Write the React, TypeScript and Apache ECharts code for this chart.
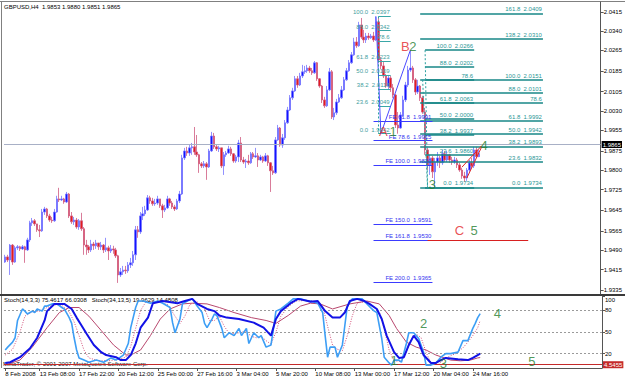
import React, { useEffect, useRef } from "react";
import * as echarts from "echarts";

// ---------------- data ----------------
const symbolName = "GBPUSD,H4";
const firstOpen = 1.9444;
const closes = [
  1.9464,1.9452,1.9510,1.9444,1.9499,1.9503,1.9495,1.9503,1.9491,1.9530,
  1.9596,1.9604,1.9592,1.9569,1.9565,1.9638,1.9650,1.9623,1.9607,1.9604,
  1.9638,1.9689,1.9685,1.9689,1.9677,1.9708,1.9623,1.9600,1.9607,1.9580,
  1.9604,1.9573,1.9510,1.9503,1.9491,1.9514,1.9507,1.9518,1.9503,1.9510,
  1.9491,1.9499,1.9487,1.9495,1.9491,1.9468,1.9394,1.9406,1.9413,1.9410,
  1.9433,1.9441,1.9472,1.9569,1.9561,1.9623,1.9631,1.9646,1.9693,1.9681,
  1.9670,1.9673,1.9689,1.9662,1.9646,1.9654,1.9689,1.9673,1.9658,1.9650,
  1.9681,1.9708,1.9848,1.9875,1.9867,1.9887,1.9891,1.9871,1.9860,1.9825,
  1.9817,1.9825,1.9813,1.9875,1.9933,1.9891,1.9883,1.9887,1.9817,1.9860,
  1.9867,1.9883,1.9864,1.9836,1.9852,1.9906,1.9840,1.9832,1.9836,1.9829,
  1.9864,1.9852,1.9856,1.9840,1.9852,1.9836,1.9856,1.9829,1.9798,1.9790,
  1.9918,1.9964,1.9898,1.9926,1.9984,2.0034,2.0081,2.0108,2.0155,2.0131,
  2.0166,2.0182,2.0186,2.0197,2.0186,2.0178,2.0217,2.0155,2.0127,2.0073,
  2.0050,2.0112,2.0182,2.0007,2.0023,2.0065,2.0081,2.0112,2.0151,2.0186,
  2.0217,2.0248,2.0298,2.0283,2.0364,2.0317,2.0306,2.0321,2.0314,2.0321,
  2.0306,2.0376,2.0228,2.0205,2.0166,2.0127,2.0158,2.0120,2.0092,1.9976,
  1.9964,2.0015,2.0073,2.0131,2.0189,2.0197,2.0151,2.0104,2.0127,2.0081,
  2.0026,1.9879,1.9821,1.9848,1.9794,1.9832,1.9848,1.9829,1.9864,1.9840,
  1.9860,1.9840,1.9832,1.9840,1.9821,1.9801,1.9778,1.9770,1.9801,1.9829,
  1.9817,1.9879,1.9853,1.9865,
];
const highs = [
  1.9472,1.9472,1.9514,1.9514,1.9507,1.9510,1.9507,1.9510,1.9507,1.9538,
  1.9604,1.9615,1.9611,1.9580,1.9588,1.9650,1.9658,1.9654,1.9631,1.9619,
  1.9650,1.9701,1.9732,1.9701,1.9693,1.9716,1.9712,1.9638,1.9619,1.9615,
  1.9611,1.9635,1.9580,1.9530,1.9510,1.9530,1.9522,1.9530,1.9518,1.9522,
  1.9514,1.9538,1.9507,1.9510,1.9507,1.9499,1.9472,1.9421,1.9429,1.9429,
  1.9444,1.9460,1.9487,1.9584,1.9584,1.9638,1.9658,1.9662,1.9704,1.9701,
  1.9693,1.9689,1.9701,1.9689,1.9670,1.9666,1.9701,1.9693,1.9681,1.9666,
  1.9689,1.9720,1.9860,1.9887,1.9891,1.9898,1.9906,1.9968,1.9937,1.9864,
  1.9832,1.9836,1.9832,1.9883,1.9949,1.9945,1.9898,1.9895,1.9887,1.9871,
  1.9875,1.9895,1.9891,1.9867,1.9860,1.9918,1.9929,1.9852,1.9844,1.9860,
  1.9871,1.9871,1.9887,1.9867,1.9860,1.9856,1.9867,1.9860,1.9832,1.9817,
  1.9929,1.9976,1.9968,1.9941,1.9995,2.0046,2.0092,2.0120,2.0166,2.0166,
  2.0178,2.0209,2.0205,2.0209,2.0205,2.0197,2.0224,2.0220,2.0158,2.0131,
  2.0085,2.0127,2.0197,2.0189,2.0042,2.0077,2.0096,2.0127,2.0162,2.0197,
  2.0228,2.0259,2.0314,2.0317,2.0376,2.0391,2.0345,2.0333,2.0333,2.0329,
  2.0337,2.0397,2.0391,2.0240,2.0220,2.0174,2.0170,2.0166,2.0135,2.0096,
  2.0026,2.0026,2.0089,2.0143,2.0205,2.0266,2.0205,2.0158,2.0151,2.0131,
  2.0089,2.0042,1.9887,1.9860,1.9856,1.9848,1.9871,1.9856,1.9879,1.9875,
  1.9875,1.9864,1.9852,1.9852,1.9848,1.9829,1.9809,1.9794,1.9809,1.9840,
  1.9848,1.9891,1.9891,1.9880,
];
const lows = [
  1.9441,1.9444,1.9394,1.9433,1.9441,1.9491,1.9487,1.9491,1.9441,1.9487,
  1.9522,1.9584,1.9584,1.9561,1.9541,1.9561,1.9627,1.9615,1.9600,1.9596,
  1.9600,1.9635,1.9677,1.9681,1.9670,1.9673,1.9615,1.9592,1.9588,1.9573,
  1.9569,1.9565,1.9472,1.9472,1.9479,1.9483,1.9491,1.9495,1.9491,1.9491,
  1.9479,1.9483,1.9452,1.9479,1.9476,1.9460,1.9363,1.9386,1.9394,1.9398,
  1.9402,1.9421,1.9429,1.9452,1.9538,1.9553,1.9607,1.9623,1.9642,1.9670,
  1.9662,1.9662,1.9666,1.9654,1.9615,1.9638,1.9650,1.9662,1.9650,1.9642,
  1.9646,1.9673,1.9704,1.9840,1.9856,1.9856,1.9860,1.9860,1.9852,1.9790,
  1.9809,1.9809,1.9763,1.9809,1.9871,1.9883,1.9875,1.9871,1.9809,1.9782,
  1.9852,1.9864,1.9856,1.9829,1.9829,1.9832,1.9832,1.9825,1.9809,1.9821,
  1.9825,1.9844,1.9848,1.9813,1.9836,1.9829,1.9832,1.9817,1.9716,1.9782,
  1.9786,1.9914,1.9891,1.9887,1.9918,1.9980,2.0030,2.0073,2.0104,2.0120,
  2.0127,2.0158,2.0174,2.0178,2.0178,2.0170,2.0174,2.0147,2.0120,2.0061,
  2.0042,2.0046,2.0108,1.9999,1.9995,2.0015,2.0061,2.0077,2.0108,2.0147,
  2.0182,2.0213,2.0244,2.0275,2.0279,2.0310,2.0294,2.0294,2.0306,2.0310,
  2.0298,2.0302,2.0217,2.0193,2.0158,2.0120,2.0112,2.0104,2.0081,1.9964,
  1.9942,1.9961,2.0007,2.0065,2.0123,2.0182,2.0139,2.0092,2.0096,2.0069,
  2.0019,1.9860,1.9801,1.9782,1.9770,1.9734,1.9817,1.9809,1.9821,1.9832,
  1.9832,1.9829,1.9821,1.9825,1.9809,1.9794,1.9767,1.9755,1.9759,1.9794,
  1.9809,1.9809,1.9848,1.9851,
];

const slotCount = 243;
const timeLabels = ["8 Feb 2008", "13 Feb 08:00", "17 Feb 22:00", "20 Feb 12:00", "25 Feb 00:00", "27 Feb 16:00", "3 Mar 04:00", "5 Mar 20:00", "10 Mar 08:00", "13 Mar 00:00", "17 Mar 12:00", "20 Mar 04:00", "24 Mar 16:00"];
const timeLabelBars = [0, 14, 30, 46, 62, 78, 94, 110, 126, 142, 158, 174, 190];
const priceTicks = [2.0415, 2.0340, 2.0265, 2.0185, 2.0105, 2.0030, 1.9955, 1.9875, 1.9800, 1.9725, 1.9645, 1.9565, 1.9490, 1.9415, 1.9335];
const stochTicks = [100, 80, 50, 20];
const stochLevels = [80, 50, 20];
const stochRedLevel = 4.5455;

// Stochastic lines: [bar, value] vertices
const fastMain = [[0,25],[1,29],[3,36],[4,42],[5,66],[7,82],[8,79],[9,75],[11,79],[12,77],[13,82],[15,79],[16,86],[17,86],[19,89],[21,89],[23,84],[24,82],[26,70],[27,62],[28,42],[29,25],[30,14],[32,11],[34,8],[37,11],[40,8],[43,14],[45,11],[48,18],[50,34],[51,56],[53,84],[54,93],[56,93],[59,90],[62,93],[64,90],[67,84],[68,63],[69,49],[71,68],[72,89],[74,93],[76,96],[78,86],[80,77],[81,62],[82,56],[84,68],[85,75],[86,73],[88,55],[89,42],[91,49],[93,45],[95,55],[96,45],[98,55],[99,34],[101,49],[103,42],[104,45],[106,29],[108,32],[109,55],[110,79],[112,82],[115,90],[117,96],[120,96],[123,93],[124,93],[127,90],[129,77],[130,45],[131,15],[132,29],[134,29],[135,15],[137,32],[138,59],[139,86],[141,96],[145,96],[147,89],[149,82],[150,79],[151,77],[153,41],[154,15],[156,7],[157,4],[158,11],[160,11],[161,8],[163,34],[164,49],[166,49],[168,41],[170,22],[171,4],[173,4],[175,7],[177,15],[179,20],[181,20],[184,22],[186,38],[188,38],[190,55],[191,62],[192,70],[193,75.4617]];
const fastSignal = [[0,18],[3,26],[6,50],[8,72],[11,78],[14,79],[17,84],[20,88],[23,87],[26,78],[28,64],[30,45],[32,25],[34,14],[38,10],[42,10],[46,12],[49,15],[51,30],[53,55],[55,80],[57,91],[62,92],[66,88],[69,72],[71,62],[73,72],[75,88],[78,92],[81,82],[83,66],[85,66],[87,72],[89,58],[91,48],[94,48],[96,50],[98,50],[100,44],[102,42],[104,44],[106,38],[108,33],[110,50],[112,72],[115,85],[118,93],[123,94],[127,92],[129,86],[131,58],[133,32],[135,26],[137,24],[139,45],[141,72],[143,90],[147,93],[150,84],[152,78],[154,55],[156,25],[158,10],[161,9],[163,22],[165,40],[167,47],[169,42],[171,22],[173,7],[176,5],[179,14],[183,20],[186,28],[188,36],[190,45],[192,56],[193,66.0308]];
const slowMain = [[0,7],[2,8],[6,15],[10,27],[13,42],[16,66],[17,79],[20,89],[24,89],[27,82],[29,70],[31,59],[33,48],[36,32],[39,22],[41,18],[45,15],[47,11],[49,11],[51,18],[53,34],[55,56],[58,70],[60,90],[64,93],[70,90],[73,93],[76,96],[78,89],[82,82],[85,79],[87,73],[90,70],[95,68],[101,63],[105,56],[108,45],[110,68],[112,79],[116,90],[119,96],[123,93],[124,92],[127,93],[130,79],[133,70],[136,70],[138,77],[140,93],[143,96],[146,93],[148,89],[151,82],[153,68],[155,45],[158,22],[160,14],[162,15],[164,32],[166,45],[168,36],[170,18],[173,7],[175,7],[177,11],[179,14],[184,12],[188,11],[190,14],[192,18],[193,19.9629]];
const slowSignal = [[0,4],[6,11],[11,29],[17,56],[22,77],[26,84],[30,84],[34,72],[39,52],[44,32],[49,18],[51,18],[55,25],[59,45],[63,68],[67,82],[72,89],[76,90],[82,89],[87,84],[93,77],[100,70],[106,66],[110,62],[115,73],[120,86],[124,90],[128,89],[133,82],[140,89],[147,93],[152,89],[156,73],[159,55],[163,36],[167,29],[171,25],[175,18],[181,11],[185,10],[189,11],[192,14],[193,14.4808]];

// Fibonacci tools
const fib1Labels = ["100.0  2.0397", "88.0  2.0342", "78.6", "61.8  2.0223", "50.0  2.0169", "38.2  2.0116", "23.6  2.0049", "0.0  1.9942"];
const fib1Prices = [2.0397, 2.0342, 2.0300, 2.0223, 2.0169, 2.0116, 2.0049, 1.9942];
const fib1Span = [151.5, 157.2];
const fib2Labels = ["161.8  2.0409", "138.2  2.0310", "100.0  2.0151", "88.0  2.0101", "78.6", "61.8  1.9992", "50.0  1.9942", "38.2  1.9893", "23.6  1.9832", "0.0  1.9734"];
const fib2Prices = [2.0409, 2.0310, 2.0151, 2.0101, 2.0062, 1.9992, 1.9942, 1.9893, 1.9832, 1.9734];
const fib2Span = [169.4, 219.4];
const fib3Labels = ["100.0  2.0266", "88.0  2.0202", "78.6", "61.8  2.0063", "50.0  2.0000", "38.2  1.9937", "23.6  1.9860", "0.0  1.9734"];
const fib3Prices = [2.0266, 2.0202, 2.0152, 2.0063, 2.0000, 1.9937, 1.9860, 1.9734];
const fib3Span = [170.6, 191.0];
const feLabels = ["FE 61.8  1.9991", "FE 78.6  1.9915", "FE 100.0  1.9820", "FE 150.0  1.9591", "FE 161.8  1.9530", "FE 200.0  1.9365"];
const fePrices = [1.9991, 1.9915, 1.9820, 1.9591, 1.9530, 1.9365];
const feSpan = [150.3, 174.0];
const cTargetLine = [[171.9, 1.9530], [213.3, 1.9530]];
const waveRedLines = [[[187.7, 1.9770], [193.8, 1.9890]], [[185.5, 1.9812], [193.8, 1.9895]]];
const feTrendLines = [[[151.2, 2.0397], [152.5, 1.9942]], [[152.5, 1.9942], [165.4, 2.0266]]];
const fibTrendLines = [[[151.5, 2.0397], [151.8, 1.9942]], [[169.6, 2.0151], [171.5, 1.9734]], [[170.6, 2.0266], [171.5, 1.9734]]];

const mainWaveNames = ["A", "1", "B", "2", "3", "4", "C", "5"];
const mainWaveBars = [153.6, 158.4, 162.5, 166.2, 173.9, 194.6, 185.3, 190.6];
const mainWavePrices = [1.9949, 1.9949, 2.0279, 2.0279, 1.9743, 1.9898, 1.9565, 1.9565];
const stochWaveNames = ["1", "2", "3", "4", "5"];
const stochWaveBars = [158.0, 170.2, 177.6, 199.9, 214.1];
const stochWaveValues = [11, 62, 5.6, 76, 9.7];

// ---------------- chart ----------------
const FONT = "'Liberation Sans', Arial, sans-serif";
const RED = "#e3262a";
const GREEN = "#237d2e";

const fmt = (v: number) => v.toFixed(4);

function levelPairs(labels: string[], prices: number[], span: number[]) {
  return labels.map((t, i) => [
    { coord: [span[0], prices[i]], label: { formatter: t } },
    { coord: [span[1], prices[i]] },
  ]);
}
function segPairs(segs: number[][][], style: any) {
  return segs.map((s) => [{ coord: s[0], lineStyle: style }, { coord: s[1] }]);
}
function markLineBase(color: string, width: number, labelColor: string) {
  return {
    silent: true,
    symbol: ["none", "none"],
    animation: false,
    lineStyle: { color, width, type: "solid", opacity: 1 },
    emphasis: { disabled: true },
    label: {
      show: true,
      position: "insideEndTop",
      fontSize: 6,
      fontFamily: FONT,
      color: labelColor,
      distance: 1,
    },
  };
}

export default function App() {
  const ref = useRef<HTMLDivElement>(null);
  useEffect(() => {
    if (!ref.current) return;
    const chart = echarts.init(ref.current, null, { renderer: "svg", width: 625, height: 380 });
    const n = closes.length;
    const candles = closes.map((c, i) => [i === 0 ? firstOpen : closes[i - 1], c, lows[i], highs[i]]);
    const last = candles[n - 1];
    const cats = Array.from({ length: slotCount }, (_, i) => {
      const k = timeLabelBars.indexOf(i);
      return k >= 0 ? timeLabels[k] : String(i);
    });
    const isLabelBar = (i: number) => timeLabelBars.indexOf(i) >= 0;
    const header = `${symbolName}  ${fmt(last[0])} ${fmt(last[3])} ${fmt(last[2])} ${fmt(last[1])}`;
    const stochHeader = `Stoch(14,3,3) ${fastMain[fastMain.length - 1][1].toFixed(4)} ${fastSignal[fastSignal.length - 1][1].toFixed(4)}   Stoch(34,13,5) ${slowMain[slowMain.length - 1][1].toFixed(4)} ${slowSignal[slowSignal.length - 1][1].toFixed(4)}`;

    const option: any = {
      animation: false,
      backgroundColor: "#ffffff",
      textStyle: { fontFamily: FONT },
      grid: [
        { left: 4, right: 23, top: 2, height: 292 },
        { left: 4, right: 23, top: 296, height: 72 },
      ],
      xAxis: [
        {
          type: "category", gridIndex: 0, data: cats, boundaryGap: true,
          axisLine: { show: false }, axisTick: { show: false }, axisLabel: { show: false }, splitLine: { show: false },
        },
        {
          type: "category", gridIndex: 1, data: cats, boundaryGap: true,
          axisLine: { show: true, lineStyle: { color: "#555", width: 1 } },
          axisTick: { show: true, alignWithLabel: true, interval: (i: number) => isLabelBar(i), length: 3, lineStyle: { color: "#555" } },
          axisLabel: {
            show: true, interval: (i: number) => isLabelBar(i), align: "left", fontSize: 6, color: "#000",
            fontFamily: FONT, margin: 3,
          },
          splitLine: { show: false },
        },
      ],
      yAxis: [
        {
          type: "value", gridIndex: 0, position: "right", min: 1.9320, max: 2.0453,
          axisLine: { show: true, lineStyle: { color: "#555" } },
          axisTick: { show: true, customValues: priceTicks, length: 3, lineStyle: { color: "#555" } },
          axisLabel: { show: true, customValues: priceTicks, formatter: (v: number) => fmt(v), fontSize: 6, color: "#000", fontFamily: FONT, margin: 3, padding: [3, 0, 0, 0] },
          splitLine: { show: false },
        },
        {
          type: "value", gridIndex: 1, position: "right", min: 0, max: 100,
          axisLine: { show: true, lineStyle: { color: "#555" } },
          axisTick: { show: true, customValues: stochTicks, length: 3, lineStyle: { color: "#555" } },
          axisLabel: {
            show: true, customValues: stochTicks, fontSize: 6, color: "#000", fontFamily: FONT, margin: 3,
            formatter: (v: number) => (v === 100 ? `{top|${v}}` : `${v}`),
            rich: { top: { fontSize: 6, fontFamily: FONT, color: "#000", padding: [7, 0, 0, 0] } },
          },
          splitLine: { show: false },
        },
      ],
      series: [
        {
          name: "price", type: "candlestick", xAxisIndex: 0, yAxisIndex: 0, data: candles, barWidth: 2,
          itemStyle: { color: "#1414ff", color0: "#e41c1c", borderColor: "#7676ff", borderColor0: "#cf5a80", borderWidth: 0.8 },
          markLine: {
            silent: true, symbol: ["none", "none"],
            lineStyle: { color: "#a8b0c6", width: 1, type: "solid" },
            label: { show: true, position: "end", formatter: fmt(last[1]), backgroundColor: "#000", color: "#fff", fontSize: 6, fontFamily: FONT, padding: [1, 1, 0, 1], distance: 1 },
            data: [{ yAxis: last[1] }],
          },
          z: 2,
        },
        {
          name: "fib1", type: "line", xAxisIndex: 0, yAxisIndex: 0, data: [],
          markLine: { ...markLineBase("#3aa7a7", 1, "#3fa0a0"), data: levelPairs(fib1Labels, fib1Prices, fib1Span) },
        },
        {
          name: "fib2", type: "line", xAxisIndex: 0, yAxisIndex: 0, data: [],
          markLine: { ...markLineBase("#178787", 1.5, "#2a9696"), data: levelPairs(fib2Labels, fib2Prices, fib2Span) },
        },
        {
          name: "fib3", type: "line", xAxisIndex: 0, yAxisIndex: 0, data: [],
          markLine: { ...markLineBase("#178787", 1.5, "#2a9696"), data: levelPairs(fib3Labels, fib3Prices, fib3Span) },
        },
        {
          name: "fe", type: "line", xAxisIndex: 0, yAxisIndex: 0, data: [],
          markLine: { ...markLineBase("#3b3bff", 1, "#3434f0"), data: levelPairs(feLabels, fePrices, feSpan) },
        },
        {
          name: "trendlines", type: "line", xAxisIndex: 0, yAxisIndex: 0, data: [],
          markLine: {
            silent: true, symbol: ["none", "none"], label: { show: false },
            lineStyle: { color: "#4a4aff", width: 1 },
            data: [
              ...segPairs(feTrendLines, { color: "#4a4aff", width: 1, type: "solid" }),
              ...segPairs(fibTrendLines, { color: "#2aa0a0", width: 1, type: [2, 2] }),
              ...segPairs(waveRedLines, { color: "#e02828", width: 1, type: "solid" }),
              ...segPairs([cTargetLine], { color: "#d82020", width: 1.2, type: "solid" }),
            ],
          },
        },
        {
          name: "waves", type: "scatter", xAxisIndex: 0, yAxisIndex: 0, symbolSize: 0, z: 10,
          label: { show: true, position: "inside", formatter: "{b}", fontSize: 13, fontFamily: FONT },
          data: mainWaveNames.map((nm, i) => ({
            name: nm, value: [mainWaveBars[i], mainWavePrices[i]],
            label: { color: /[A-Z]/.test(nm) ? RED : GREEN },
          })),
        },
        {
          name: "stochLevels", type: "line", xAxisIndex: 1, yAxisIndex: 1, data: [],
          markLine: {
            silent: true, symbol: ["none", "none"],
            lineStyle: { color: "#9a9a9a", width: 1, type: [2, 2] },
            label: { show: false },
            data: [
              ...stochLevels.map((v) => ({ yAxis: v })),
              {
                yAxis: stochRedLevel, lineStyle: { color: "#c42a2a", type: "solid", width: 1 },
                label: { show: true, position: "end", formatter: stochRedLevel.toFixed(4), backgroundColor: "#c42a2a", color: "#fff", fontSize: 6, fontFamily: FONT, padding: [1, 1, 0, 1], distance: 1 },
              },
            ],
          },
        },
        {
          name: "Stoch34 signal", type: "line", xAxisIndex: 1, yAxisIndex: 1, data: slowSignal, showSymbol: false,
          lineStyle: { color: "#b8486e", width: 1 }, z: 3,
        },
        {
          name: "Stoch14 signal", type: "line", xAxisIndex: 1, yAxisIndex: 1, data: fastSignal, showSymbol: false,
          lineStyle: { color: "#d2507a", width: 1, type: [1, 1.5] }, z: 4,
        },
        {
          name: "Stoch14 main", type: "line", xAxisIndex: 1, yAxisIndex: 1, data: fastMain, showSymbol: false,
          lineStyle: { color: "#3d9ef5", width: 1.6 }, z: 5,
        },
        {
          name: "Stoch34 main", type: "line", xAxisIndex: 1, yAxisIndex: 1, data: slowMain, showSymbol: false,
          lineStyle: { color: "#1212e6", width: 2 }, z: 6,
        },
        {
          name: "stochWaves", type: "scatter", xAxisIndex: 1, yAxisIndex: 1, symbolSize: 0, z: 10,
          label: { show: true, position: "inside", formatter: "{b}", fontSize: 13, fontFamily: FONT, color: GREEN },
          data: stochWaveNames.map((nm, i) => ({ name: nm, value: [stochWaveBars[i], stochWaveValues[i]] })),
        },
      ],
      graphic: [
        { type: "line", silent: true, shape: { x1: 0, y1: 1.5, x2: 625, y2: 1.5 }, style: { stroke: "#808080", lineWidth: 1 } },
        { type: "line", silent: true, shape: { x1: 1.5, y1: 1, x2: 1.5, y2: 368 }, style: { stroke: "#808080", lineWidth: 1 } },
        { type: "rect", silent: true, shape: { x: 0, y: 294, width: 625, height: 2 }, style: { fill: "#3a3a3a" } },
        { type: "text", silent: true, left: 4, top: 4, style: { text: header, fontSize: 6, fontFamily: FONT, fill: "#000" } },
        { type: "text", silent: true, left: 4, top: 297, style: { text: stochHeader, fontSize: 6, fontFamily: FONT, fill: "#000" } },
        { type: "text", silent: true, left: 3, top: 361, style: { text: "MetaTrader, \u00a9 2001-2007 MetaQuotes Software Corp.", fontSize: 6, fontFamily: FONT, fill: "#222" } },
      ],
    };
    chart.setOption(option);
    return () => chart.dispose();
  }, []);
  return <div ref={ref} style={{ position: "fixed", left: 0, top: 0, width: 625, height: 380, background: "#fff" }} />;
}
